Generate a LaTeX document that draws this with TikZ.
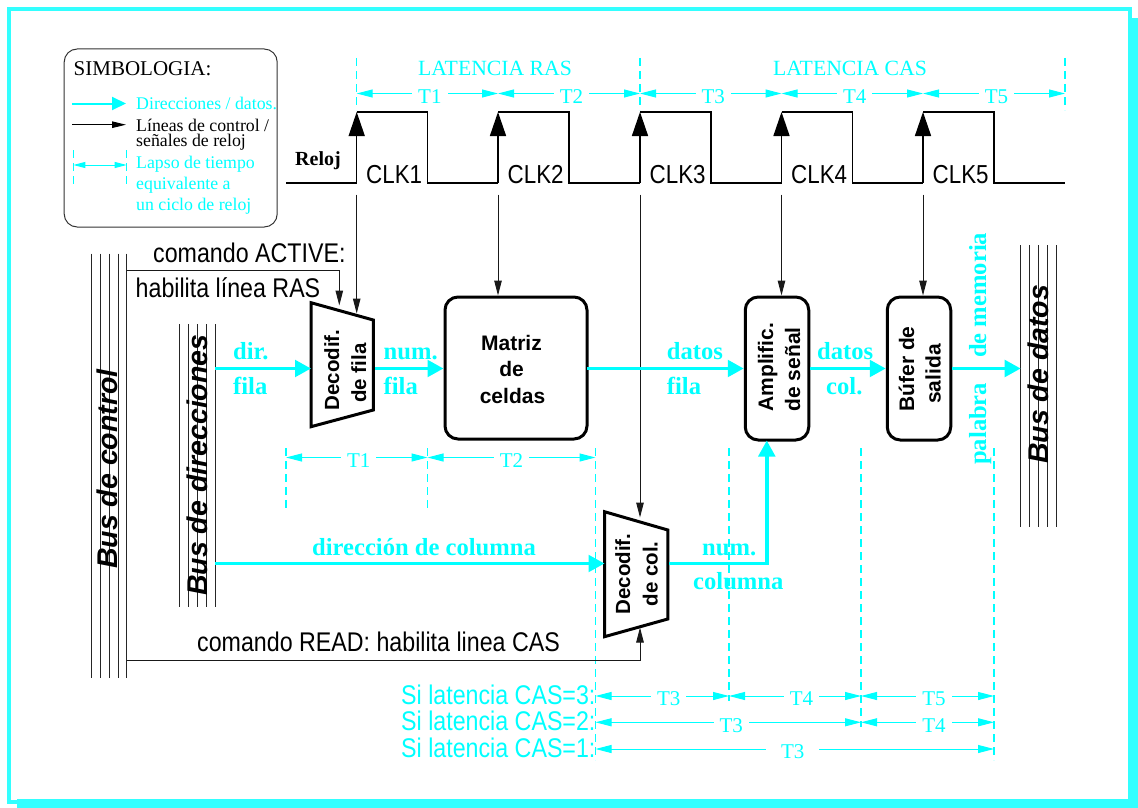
\documentclass[tikz,border=0pt]{standalone}
\usepackage{fontspec}
\setmainfont{Liberation Serif}
\newfontfamily\tms{Liberation Serif}
\newfontfamily\hlv{Liberation Sans}
\newfontfamily\cnd[FakeStretch=.86]{Liberation Sans}
\usetikzlibrary{arrows.meta}
\definecolor{cy}{HTML}{00FFFF}
\definecolor{fr}{HTML}{33FFFF}
\newcommand{\fsz}[1]{\fontsize{#1}{#1}\selectfont}
\tikzset{
  txt/.style={inner sep=0pt,anchor=base west},
  vtxt/.style={inner sep=0pt,anchor=base west,rotate=90},
  vmid/.style={inner sep=0pt,anchor=base,rotate=90},
  ctxt/.style={txt,font=\cnd\fsz{27}},
  cytxt/.style={ctxt,text=cy},
  clktxt/.style={txt,font=\cnd\fsz{26}},
  dtxt/.style={txt,font=\tms\bfseries\fsz{24.6},text=cy},
  dvtxt/.style={vtxt,font=\tms\bfseries\fsz{24.6},text=cy},
  boxtxt/.style={font=\hlv\bfseries\fsz{20.5}},
  boxbig/.style={font=\hlv\bfseries\fsz{21}},
  bustxt/.style={vtxt,font=\hlv\bfseries\itshape\fsz{28.5}},
  legtxt/.style={txt,font=\tms\fsz{17.8}},
  toptxt/.style={txt,font=\tms\fsz{21.7},text=cy},
  busline/.style={line width=1pt,black!85},
  ctrl/.style={line width=1pt,black!90,-{Triangle[length=15pt,width=7.5pt]}},
  dataflow/.style={line width=3.6pt,cy,-{Triangle[length=16pt,width=16.5pt]}},
  clkwave/.style={line width=1.5pt,black},
  clkedge/.style={line width=1.5pt,black,-{Triangle[length=24pt,width=16pt]}},
  dimline/.style={line width=1pt,cy,{Triangle[length=16pt,width=8pt]}-{Triangle[length=16pt,width=8pt]}},
  dimlabel/.style={midway,fill=white,inner xsep=6pt,inner ysep=1pt,yshift=-3pt,font=\tms\fsz{21},text=cy},
  tickline/.style={line width=1.1pt,cy,dash pattern=on 8pt off 5pt},
  block/.style={draw=black,line width=3pt,fill=white,rounded corners=13pt,inner sep=0pt},
  decoder/.style={draw=black,line width=3pt,fill=white,line join=miter},
}
\begin{document}
\begin{tikzpicture}[x=1pt,y=-1pt]
\useasboundingbox (0,0) rectangle (1138,808);

% frame with shadow
\fill[fr] (1128,18) rectangle (1138,808);
\fill[fr] (17,799) rectangle (1138,808);
\draw[fr,line width=4pt] (9,9) rectangle (1129.7,801.5);

% legend
\node[draw=black!80,line width=1pt,rounded corners=13pt,minimum width=213pt,minimum height=178pt,inner sep=0pt] (legend) at (170.7,138) {};
\node[txt,font=\tms\fsz{21}] (lsim) at (73.5,76) {SIMBOLOGIA:};
\coordinate (la1) at (72,103.5); \coordinate (la2) at (126,103.5);
\draw[line width=2pt,cy,-{Triangle[length=14pt,width=13pt]}] (la1) -- (la2);
\coordinate (lb1) at (72,124.7); \coordinate (lb2) at (126,124.7);
\draw[line width=1pt,black,-{Triangle[length=14pt,width=6.5pt]}] (lb1) -- (lb2);
\coordinate (lc1) at (73.3,165); \coordinate (lc2) at (126.7,165);
\coordinate (lc1t) at (73.3,150); \coordinate (lc1b) at (73.3,184);
\coordinate (lc2t) at (126.7,150); \coordinate (lc2b) at (126.7,184);
\draw[tickline] (lc1t) -- (lc1b);
\draw[tickline] (lc2t) -- (lc2b);
\draw[line width=1pt,cy,{Triangle[length=12pt,width=6pt]}-{Triangle[length=12pt,width=6pt]}] (lc1) -- (lc2);
\node[legtxt,text=cy] (l1) at (136,110) {Direcciones / datos.};
\node[legtxt] (l2) at (136,131.7) {Líneas de control /};
\node[legtxt] (l3) at (136,146) {señales de reloj};
\node[legtxt,text=cy] (l4) at (136,168.3) {Lapso de tiempo};
\node[legtxt,text=cy] (l5) at (136,189) {equivalente a};
\node[legtxt,text=cy] (l6) at (136,210) {un ciclo de reloj};

% dashed time marks
\coordinate (m0t) at (356.7,58); \coordinate (m0b) at (356.7,110);
\coordinate (m2t) at (640,58);   \coordinate (m2b) at (640,110);
\coordinate (m5t) at (1065,58);  \coordinate (m5b) at (1065,110);
\draw[tickline] (m0t) -- (m0b);
\draw[tickline] (m2t) -- (m2b);
\draw[tickline] (m5t) -- (m5b);
\coordinate (a1t) at (286,448);   \coordinate (a1b) at (286,512);
\coordinate (a2t) at (427.5,448); \coordinate (a2b) at (427.5,512);
\coordinate (a3t) at (595.5,448); \coordinate (a3b) at (595.5,760);
\coordinate (a4t) at (729,448);   \coordinate (a4b) at (729,701);
\coordinate (a5t) at (861,448);   \coordinate (a5b) at (861,727);
\coordinate (a6t) at (994,448);   \coordinate (a6b) at (994,760);
\foreach \i in {1,...,6} {\draw[tickline] (a\i t) -- (a\i b);}

% top latency labels and cycles
\node[toptxt] (lras) at (418,76) {LATENCIA RAS};
\node[toptxt] (lcas) at (773,76) {LATENCIA CAS};
\coordinate (c0) at (356.7,93.5); \coordinate (c1) at (498,93.5); \coordinate (c2) at (640,93.5);
\coordinate (c3) at (781.5,93.5); \coordinate (c4) at (923,93.5); \coordinate (c5) at (1065,93.5);
\draw[dimline] (c0) -- node[dimlabel,xshift=2.5pt] (tt1) {T1} (c1);
\draw[dimline] (c1) -- node[dimlabel,xshift=2.5pt] (tt2) {T2} (c2);
\draw[dimline] (c2) -- node[dimlabel,xshift=2.5pt] (tt3) {T3} (c3);
\draw[dimline] (c3) -- node[dimlabel,xshift=2.5pt] (tt4) {T4} (c4);
\draw[dimline] (c4) -- node[dimlabel,xshift=2.5pt] (tt5) {T5} (c5);

% clock wave
\coordinate (w0) at (286,183);
\foreach \n/\x in {1/356.7,2/498,3/640,4/781.5,5/923} {
  \coordinate (rl\n) at (\x,183);
  \coordinate (rh\n) at (\x,112);
  \coordinate (fh\n) at (\x+71,112);
  \coordinate (fl\n) at (\x+71,183);
  \coordinate (cs\n) at (\x,194.5);
}
\coordinate (w1) at (1065,183);
\draw[clkwave] (w0) -- (rl1) (rh1) -- (fh1) -- (fl1) -- (rl2) (rh2) -- (fh2) -- (fl2) -- (rl3) (rh3) -- (fh3) -- (fl3) -- (rl4) (rh4) -- (fh4) -- (fl4) -- (rl5) (rh5) -- (fh5) -- (fl5) -- (w1);
\foreach \n in {1,...,5} {\draw[clkedge] (rl\n) -- (rh\n);}
\node[txt,font=\tms\bfseries\fsz{20}] (reloj) at (295,165) {Reloj};
\node[clktxt] (k1) at (366,183) {CLK1};
\node[clktxt] (k2) at (507.5,183) {CLK2};
\node[clktxt] (k3) at (649.5,183) {CLK3};
\node[clktxt] (k4) at (791,183) {CLK4};
\node[clktxt] (k5) at (932.5,183) {CLK5};

% buses
\foreach \x in {91,100,109,118,126.7} {\draw[busline] (\x,253.5) -- (\x,678);}
\foreach \x in {179.5,188.5,197.5,206.5,215} {\draw[busline] (\x,324) -- (\x,607);}
\foreach \x in {1020.7,1029.7,1038.7,1047.5,1056.5} {\draw[busline] (\x,245) -- (\x,527);}
\node[bustxt] (bc) at (117.5,569) {Bus de control};
\node[bustxt] (bd) at (207.5,596) {Bus de direcciones};
\node[bustxt] (bo) at (1048,464) {Bus de datos};

% blocks
\node[block,minimum width=142pt,minimum height=142pt] (matriz) at (516,368) {};
\node[block,minimum width=63.5pt,minimum height=143pt] (amp) at (777,368.5) {};
\node[block,minimum width=63.5pt,minimum height=143pt] (buf) at (919,368.5) {};
\coordinate (dfTL) at (311,302.7); \coordinate (dfTR) at (373.3,320);
\coordinate (dfBR) at (373.3,410); \coordinate (dfBL) at (311,426.7);
\coordinate (dcTL) at (604.5,511.7); \coordinate (dcTR) at (667.8,530);
\coordinate (dcBR) at (667.8,619); \coordinate (dcBL) at (604.5,636.7);
\draw[decoder] (dfTL) -- (dfTR) -- (dfBR) -- (dfBL) -- cycle;
\draw[decoder] (dcTL) -- (dcTR) -- (dcBR) -- (dcBL) -- cycle;

% block texts
\node[boxbig,inner sep=0pt,anchor=base] (mt1) at (511.5,350) {Matriz};
\node[boxbig,inner sep=0pt,anchor=base] (mt2) at (511.5,376) {de};
\node[boxbig,inner sep=0pt,anchor=base] (mt3) at (512.5,403) {celdas};
\node[vmid,boxtxt] (df1) at (339,370) {Decodif.};
\node[vmid,boxtxt] (df2) at (366,373) {de fila};
\node[vmid,boxtxt] (dc1) at (630,574) {Decodif.};
\node[vmid,boxtxt] (dc2) at (657.5,574) {de col.};
\node[vtxt,boxbig] (am1) at (773,411.7) {Amplific.};
\node[vtxt,boxbig] (am2) at (800,411.7) {de señal};
\node[vmid,boxbig] (bf1) at (914,369) {Búfer de};
\node[vmid,boxbig] (bf2) at (940.7,374) {salida};

% control connectors
\coordinate (ctopfork) at (126.7,270.5); \coordinate (ctopc) at (339.3,270.5); \coordinate (ctopend) at (339.3,305.5);
\draw[ctrl] (ctopfork) -- (ctopc) -- (ctopend);
\coordinate (cbotfork) at (126.7,660); \coordinate (cbotc) at (640,660); \coordinate (cbotend) at (640,627.5);
\draw[ctrl] (cbotfork) -- (cbotc) -- (cbotend);
\coordinate (e1) at (356.7,313.5);
\coordinate (e3) at (640,517.5);
\draw[ctrl] (cs1) -- (e1);
\draw[ctrl] (cs2) -- (cs2 |- matriz.north);
\draw[ctrl] (cs3) -- (e3);
\draw[ctrl] (cs4) -- (cs4 |- amp.north);
\draw[ctrl] (cs5) -- (cs5 |- buf.north);
\node[ctxt] (act) at (153,262) {comando ACTIVE:};
\node[ctxt] (ras) at (135.5,297) {habilita línea RAS};
\node[ctxt] (read) at (197,651.7) {comando READ: habilita linea CAS};

% data connectors
\coordinate (dirbus) at (215,368.5); \coordinate (dfin) at (311,368.5); \coordinate (dfout) at (375,368.5);
\draw[dataflow] (dirbus) -- (dfin);
\draw[dataflow] (dfout) -- (matriz.west |- dfout);
\coordinate (mout) at (587,368.5);
\draw[dataflow] (mout) -- (amp.west |- mout);
\draw[dataflow] (amp.east |- mout) -- (buf.west |- mout);
\coordinate (busdat) at (1020.7,368.5);
\draw[dataflow] (buf.east |- mout) -- (busdat);
\coordinate (colbus) at (215,563.5); \coordinate (dcin) at (604.5,563.5); \coordinate (dcout) at (669,563.5);
\coordinate (nc) at (766.8,563.5); \coordinate (ampin) at (766.8,440.5);
\draw[dataflow] (colbus) -- (dcin);
\draw[dataflow] (dcout) -- (nc) -- (ampin);

% data labels
\node[dtxt] (d1) at (233,359) {dir.};
\node[dtxt] (d2) at (233,394) {fila};
\node[dtxt] (d3) at (383.5,359) {num.};
\node[dtxt] (d4) at (383.5,394) {fila};
\node[dtxt] (d5) at (666.7,359) {datos};
\node[dtxt] (d6) at (666.7,394) {fila};
\node[dtxt] (d7) at (817,359) {datos};
\node[dtxt] (d8) at (826,394) {col.};
\node[dvtxt] (d9) at (986,358) {de memoria};
\node[dvtxt] (d10) at (986,465) {palabra};
\node[dtxt] (d11) at (312,555) {dirección de columna};
\node[dtxt] (d12) at (702,555) {num.};
\node[dtxt] (d13) at (693,589) {columna};

% lower cycle markers
\coordinate (p1) at (286,457.5); \coordinate (p2) at (427.5,457.5); \coordinate (p3) at (595.5,457.5);
\draw[dimline] (p1) -- node[dimlabel,xshift=2pt] (q1) {T1} (p2);
\draw[dimline] (p2) -- node[dimlabel] (q2) {T2} (p3);
\coordinate (s30) at (595.5,696); \coordinate (s31) at (729,696); \coordinate (s32) at (861,696); \coordinate (s33) at (994,696);
\draw[dimline] (s30) -- node[dimlabel,xshift=6.5pt] (r1) {T3} (s31);
\draw[dimline] (s31) -- node[dimlabel,xshift=6.5pt] (r2) {T4} (s32);
\draw[dimline] (s32) -- node[dimlabel,xshift=6.5pt] (r3) {T5} (s33);
\coordinate (s20) at (595.5,722.3); \coordinate (s21) at (861,722.3); \coordinate (s22) at (994,722.3);
\draw[dimline] (s20) -- node[dimlabel,xshift=3pt] (r4) {T3} (s21);
\draw[dimline] (s21) -- node[dimlabel,xshift=6.5pt] (r5) {T4} (s22);
\coordinate (s10) at (595.5,749); \coordinate (s11) at (994,749);
\draw[dimline] (s10) -- node[dimlabel,inner xsep=15pt,xshift=-2pt] (r6) {T3} (s11);
\node[cytxt] (si3) at (401,704) {Si latencia CAS=3:};
\node[cytxt] (si2) at (401,730.7) {Si latencia CAS=2:};
\node[cytxt] (si1) at (401,757.3) {Si latencia CAS=1:};
\end{tikzpicture}
\end{document}
